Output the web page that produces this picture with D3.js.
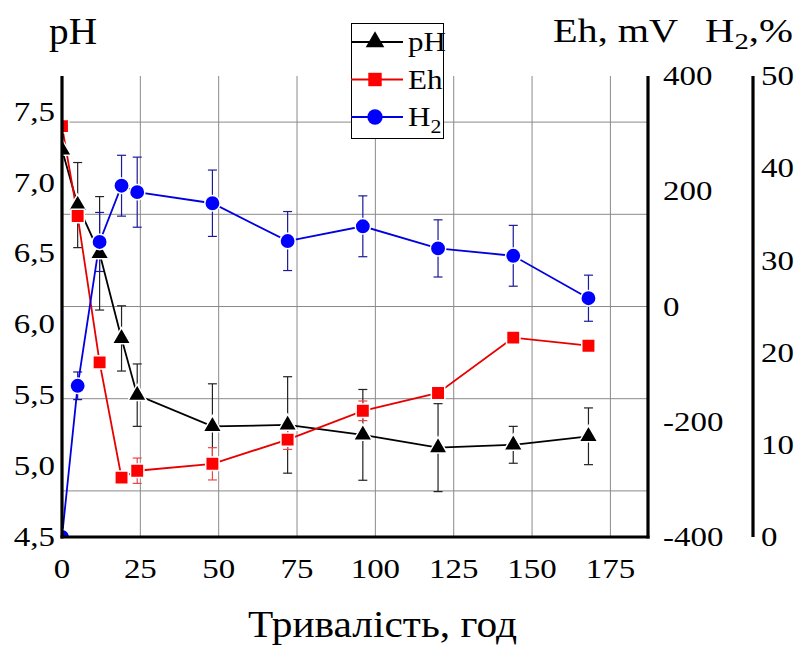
<!DOCTYPE html>
<html lang="uk">
<head>
<meta charset="UTF-8">
<title>pH, Eh, H2</title>
<script src="https://d3js.org/d3.v7.min.js"></script>
<style>
  body { margin: 0; background: #fff; }
  svg text { font-family: "Liberation Serif", "Times New Roman", serif; fill: #000; }
</style>
</head>
<body>
<div id="chart"></div>
<script>
  // data
  const hours = [0, 5, 12, 19, 24, 48, 72, 96, 120, 144, 168];
  const pH = [7.23, 6.84, 6.50, 5.90, 5.50, 5.28, 5.29, 5.22, 5.13, 5.15, 5.21];
  const pHErr = [0, 0.30, 0.40, 0.23, 0.22, 0.30, 0.34, 0.32, 0.31, 0.13, 0.20];
  const eh = [313, 157, -97, -297, -285, -273, -231, -181, -150, -54, -68];
  const ehErr = [0, 0, 5, 0, 22, 28, 17, 17, 8, 5, 5];
  const h2 = [0, 16.4, 32.0, 38.1, 37.4, 36.2, 32.1, 33.7, 31.3, 30.5, 25.9];
  const h2Err = [0, 1.5, 3.2, 3.3, 3.8, 3.6, 3.2, 3.3, 3.1, 3.3, 2.5];

  const xTicks = [0, 25, 50, 75, 100, 125, 150, 175];
  const pHTicks = [4.5, 5.0, 5.5, 6.0, 6.5, 7.0, 7.5];
  const ehTicks = [-400, -200, 0, 200, 400];
  const h2Ticks = [0, 10, 20, 30, 40, 50];
  const hGrid = [5, 15, 25, 35, 45]; // horizontal grid, in H2 units

  var W = 797, H = 646;
  var pLeft = 62, pRight = 648, pTop = 76, pBottom = 537;

  var svg = d3.select("#chart").append("svg")
    .attr("width", W).attr("height", H);

  var x = d3.scaleLinear().domain([0, 187]).range([pLeft, pRight]);
  var yPH = d3.scaleLinear().domain([4.5, 7.75]).range([pBottom, pTop]);
  var yEh = d3.scaleLinear().domain([-400, 400]).range([pBottom, pTop]);
  var yH2 = d3.scaleLinear().domain([0, 50]).range([pBottom, pTop]);

  svg.append("clipPath").attr("id", "plot")
    .append("rect").attr("x", pLeft).attr("y", pTop - 10)
    .attr("width", pRight - pLeft).attr("height", pBottom - pTop + 10);

  // grid
  var grid = svg.append("g").attr("stroke", "#8a8a8a").attr("stroke-width", 1);
  grid.selectAll(".v").data(xTicks.slice(1)).join("line")
    .attr("x1", d => x(d)).attr("x2", d => x(d))
    .attr("y1", pTop).attr("y2", pBottom);
  grid.selectAll(".h").data(hGrid).join("line")
    .attr("x1", pLeft).attr("x2", pRight)
    .attr("y1", d => yH2(d)).attr("y2", d => yH2(d));

  var series = [
    { v: pH, e: pHErr, y: yPH, color: "#000", fill: "#000", err: "#222", sym: d3.symbolTriangle, size: 150 },
    { v: eh, e: ehErr, y: yEh, color: "#e80000", fill: "#f00", err: "#e44", sym: d3.symbolSquare, size: 180 },
    { v: h2, e: h2Err, y: yH2, color: "#0000e0", fill: "#00f", err: "#1a1a9a", sym: d3.symbolCircle, size: 185 }
  ];

  var plot = svg.append("g").attr("clip-path", "url(#plot)");

  // error bars
  series.forEach(function (s) {
    var pts = hours.map((t, i) => ({ t: t, v: s.v[i], e: s.e[i] })).filter(d => d.e > 0);
    var g = plot.append("g").attr("stroke", s.err).attr("stroke-width", 1.2);
    g.selectAll(".bar").data(pts).join("line")
      .attr("x1", d => x(d.t)).attr("x2", d => x(d.t))
      .attr("y1", d => s.y(d.v - d.e)).attr("y2", d => s.y(d.v + d.e));
    [-1, 1].forEach(function (k) {
      g.selectAll(".cap" + (k + 1)).data(pts).join("line")
        .attr("class", "cap" + (k + 1))
        .attr("x1", d => x(d.t) - 4.5).attr("x2", d => x(d.t) + 4.5)
        .attr("y1", d => s.y(d.v + k * d.e)).attr("y2", d => s.y(d.v + k * d.e));
    });
  });

  // lines and markers
  series.forEach(function (s) {
    var line = d3.line().x((d, i) => x(hours[i])).y(d => s.y(d));
    plot.append("path").datum(s.v)
      .attr("fill", "none").attr("stroke", s.color).attr("stroke-width", 1.8)
      .attr("d", line);
  });
  series.forEach(function (s) {
    plot.append("g").selectAll("path").data(s.v).join("path")
      .attr("transform", (d, i) => "translate(" + x(hours[i]) + "," + s.y(d) + ")")
      .attr("d", d3.symbol().type(s.sym).size(s.size))
      .attr("fill", s.fill)
      .attr("stroke", "#fff").attr("stroke-width", 1.5);
  });

  // axis lines
  var ax = svg.append("g").attr("stroke", "#000").attr("stroke-width", 3.2);
  ax.append("line").attr("x1", pLeft).attr("x2", pLeft).attr("y1", pTop).attr("y2", pBottom + 1.5);
  ax.append("line").attr("x1", pLeft - 1.5).attr("x2", pRight + 1.5).attr("y1", pBottom).attr("y2", pBottom);
  ax.append("line").attr("x1", pRight).attr("x2", pRight).attr("y1", pTop).attr("y2", pBottom + 1.5);
  ax.append("line").attr("x1", 753).attr("x2", 753).attr("y1", pTop).attr("y2", pBottom);

  // tick labels (source font looks horizontally stretched)
  function label(g, tx, ty, txt, anchor, fs, sx) {
    return g.append("text")
      .attr("transform", "translate(" + tx + "," + ty + ") scale(" + sx + ",1)")
      .attr("text-anchor", anchor).attr("dy", "0.34em")
      .style("font-size", fs + "px").text(txt);
  }
  var lab = svg.append("g");
  pHTicks.forEach(d => label(lab, 55, yPH(d), d.toFixed(1).replace(".", ","), "end", 27, 1.22));
  ehTicks.forEach(d => label(lab, 663, yEh(d), d, "start", 27, 1.22));
  h2Ticks.forEach(d => label(lab, 761, yH2(d), d, "start", 27, 1.22));
  xTicks.forEach(d => label(lab, x(d), 569, d, "middle", 27, 1.22));

  // titles
  svg.append("text").attr("x", 49).attr("y", 44)
    .attr("textLength", 48).attr("lengthAdjust", "spacingAndGlyphs")
    .style("font-size", "37px").text("pH");
  svg.append("text").attr("x", 553).attr("y", 42)
    .attr("textLength", 125).attr("lengthAdjust", "spacingAndGlyphs")
    .style("font-size", "34px").text("Eh, mV");
  var h2t = svg.append("text").attr("transform", "translate(705,42) scale(1.2,1)")
    .style("font-size", "34px");
  h2t.append("tspan").text("H");
  h2t.append("tspan").attr("dy", 7).style("font-size", "24px").text("2");
  h2t.append("tspan").attr("dy", -7).text(",%");
  svg.append("text").attr("x", 248).attr("y", 637)
    .attr("textLength", 269).attr("lengthAdjust", "spacingAndGlyphs")
    .style("font-size", "38px").text("Тривалість, год");

  // legend
  var leg = svg.append("g");
  leg.append("rect").attr("x", 351.5).attr("y", 23.5).attr("width", 92).attr("height", 115)
    .attr("fill", "#fff").attr("stroke", "#000").attr("stroke-width", 1);
  var names = ["pH", "Eh", "H"];
  series.forEach(function (s, i) {
    var ly = 42 + i * 37.5;
    leg.append("line").attr("x1", 351).attr("x2", 403).attr("y1", ly).attr("y2", ly)
      .attr("stroke", s.color).attr("stroke-width", 1.8);
    leg.append("path").attr("transform", "translate(375," + ly + ")")
      .attr("d", d3.symbol().type(s.sym).size(s.size))
      .attr("fill", s.fill);
    var t = leg.append("text").attr("transform", "translate(408," + ly + ") scale(1.15,1)")
      .attr("dy", "0.34em").style("font-size", "27px");
    t.append("tspan").text(names[i]);
    if (i === 2) t.append("tspan").attr("dy", 7).style("font-size", "19px").text("2");
  });
</script>
</body>
</html>
